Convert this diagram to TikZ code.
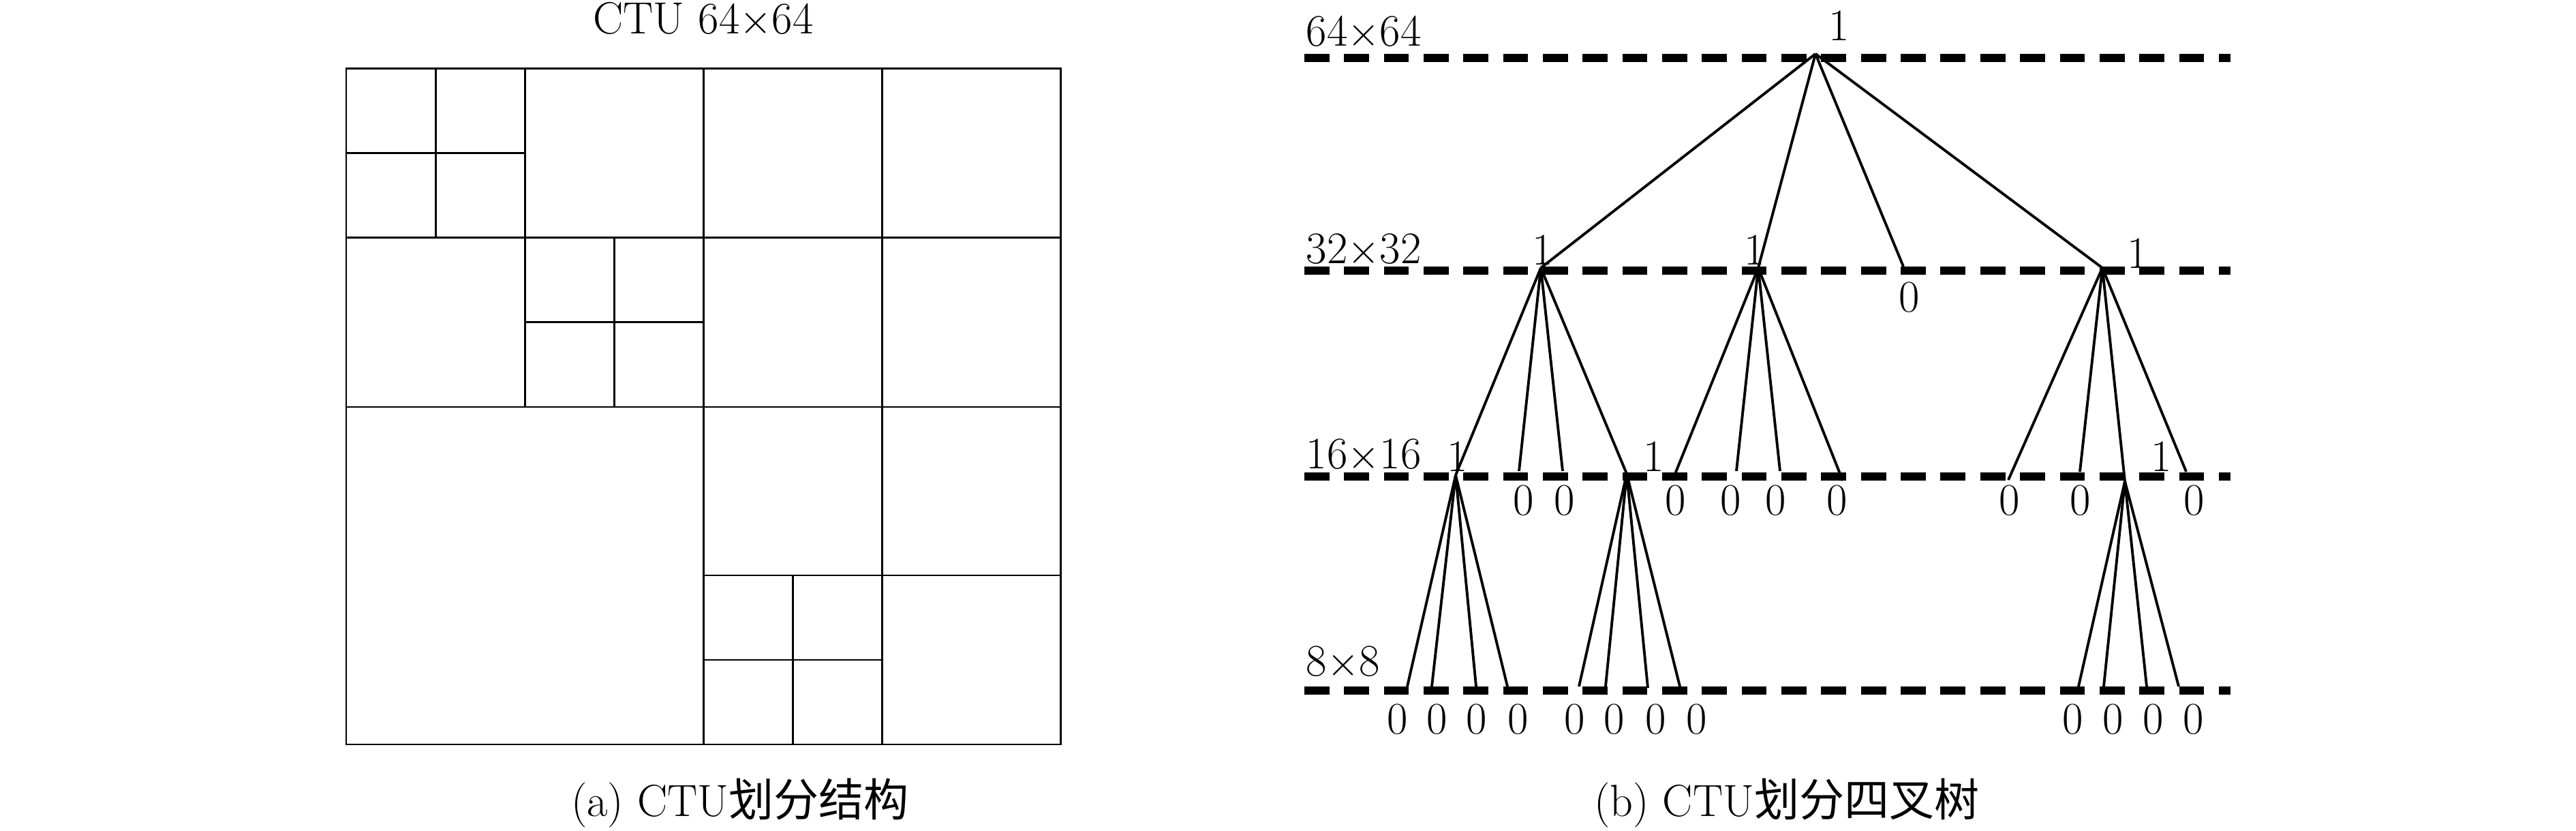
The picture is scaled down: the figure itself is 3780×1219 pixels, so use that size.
\documentclass[tikz,border=0pt]{standalone}
\usepackage{fontspec}
\newfontfamily\cjkfont{Noto Sans CJK SC}
\begin{document}
\begin{tikzpicture}[x=0.01cm,y=-0.01cm,
  gridline/.style={line width=0.85pt},
  levelline/.style={line width=3.4pt, dash pattern=on 10.44pt off 6.15pt},
  edge/.style={line width=1.1pt},
  lbl/.style={anchor=base, inner sep=0pt, font=\fontsize{18.8}{22}\selectfont},
  lvl/.style={anchor=base west, inner sep=0pt, font=\fontsize{18.8}{22}\selectfont}]
\useasboundingbox (0,0) rectangle (3780,1219);

% ---------- (a) CTU partition ----------
\node[lbl] (title) at (1032,50) {CTU 64$\times$64};
\draw[gridline] (508,101) rectangle (1556,1092);
\draw[gridline] (1032,101) -- (1032,1092);
\draw[gridline] (508,597) -- (1556,597);
% top-left 32
\draw[gridline] (770,101) -- (770,597);
\draw[gridline] (508,349) -- (1032,349);
\draw[gridline] (639,101) -- (639,349);
\draw[gridline] (508,225) -- (770,225);
\draw[gridline] (901,349) -- (901,597);
\draw[gridline] (770,473) -- (1032,473);
% top-right 32
\draw[gridline] (1294,101) -- (1294,597);
\draw[gridline] (1032,349) -- (1556,349);
% bottom-right 32
\draw[gridline] (1294,597) -- (1294,1092);
\draw[gridline] (1032,844) -- (1556,844);
\draw[gridline] (1163,844) -- (1163,1092);
\draw[gridline] (1032,968) -- (1294,968);
\node[lbl] (capa) at (1086,1197) {(a) CTU{\cjkfont 划分结构}};

% ---------- (b) quadtree ----------
\coordinate (l64a) at (1914,85);   \coordinate (l64b) at (3273,85);
\coordinate (l32a) at (1914,397);  \coordinate (l32b) at (3273,397);
\coordinate (l16a) at (1914,699);  \coordinate (l16b) at (3273,699);
\coordinate (l8a)  at (1914,1013); \coordinate (l8b)  at (3273,1013);
\draw[levelline] (l64a) -- (l64b);
\draw[levelline] (l32a) -- (l32b);
\draw[levelline] (l16a) -- (l16b);
\draw[levelline] (l8a) -- (l8b);

\node[lvl] (t64) at (1916,68) {64$\times$64};
\node[lvl] (t32) at (1916,387) {32$\times$32};
\node[lvl] (t16) at (1916,688) {16$\times$16};
\node[lvl] (t8)  at (1916,992) {8$\times$8};

% tree points
\coordinate (r) at (2664,79);
\coordinate (p1) at (2261,393);
\coordinate (p2) at (2580,393);
\coordinate (p3) at (2793,391);
\coordinate (p4) at (3085,393);
\coordinate (qA) at (2136,697);
\coordinate (q12) at (2229,691);
\coordinate (q13) at (2293,691);
\coordinate (qB) at (2387,695);
\coordinate (q21) at (2454,705);
\coordinate (q22) at (2548,691);
\coordinate (q23) at (2612,691);
\coordinate (q24) at (2704,705);
\coordinate (q41) at (2947,704);
\coordinate (q42) at (3052,692);
\coordinate (qC) at (3118,706);
\coordinate (q44) at (3208,692);
\coordinate (a1) at (2065,1007);
\coordinate (a2) at (2101,1007);
\coordinate (a3) at (2166,1007);
\coordinate (a4) at (2212,1007);
\coordinate (b1) at (2317,1007);
\coordinate (b2) at (2356,1007);
\coordinate (b3) at (2418,1009);
\coordinate (b4) at (2465,1007);
\coordinate (c1) at (3050,1007);
\coordinate (c2) at (3087,1007);
\coordinate (c3) at (3150,1007);
\coordinate (c4) at (3197,1007);

\foreach \ch in {p1,p2,p3,p4} \draw[edge] (r) -- (\ch);
\foreach \ch in {qA,q12,q13,qB} \draw[edge] (p1) -- (\ch);
\foreach \ch in {q21,q22,q23,q24} \draw[edge] (p2) -- (\ch);
\foreach \ch in {q41,q42,qC,q44} \draw[edge] (p4) -- (\ch);
\foreach \ch in {a1,a2,a3,a4} \draw[edge] (qA) -- (\ch);
\foreach \ch in {b1,b2,b3,b4} \draw[edge] (qB) -- (\ch);
\foreach \ch in {c1,c2,c3,c4} \draw[edge] (qC) -- (\ch);

% labels
\node[lbl] (nr) at (2699,60) {1};
\node[lbl] (n1) at (2264,389) {1};
\node[lbl] (n2) at (2575,389) {1};
\node[lbl] (n3) at (2802,458) {0};
\node[lbl] (n4) at (3137,394) {1};
\node[lbl] (mA) at (2139,692) {1};
\node[lbl] (m12) at (2236,756) {0};
\node[lbl] (m13) at (2296,756) {0};
\node[lbl] (mB) at (2427,692) {1};
\node[lbl] (m21) at (2459,756) {0};
\node[lbl] (m22) at (2540,756) {0};
\node[lbl] (m23) at (2606,756) {0};
\node[lbl] (m24) at (2696,756) {0};
\node[lbl] (m41) at (2949,756) {0};
\node[lbl] (m42) at (3053,756) {0};
\node[lbl] (mC) at (3172,692) {1};
\node[lbl] (m44) at (3220,756) {0};
\foreach \x [count=\i] in {2051,2109,2167,2228,2311,2369,2430,2490,3042,3101,3160,3219}
  \node[lbl] (leaf\i) at (\x,1077) {0};

\node[lbl] (capb) at (2622,1197) {(b) CTU{\cjkfont 划分四叉树}};
\end{tikzpicture}
\end{document}
